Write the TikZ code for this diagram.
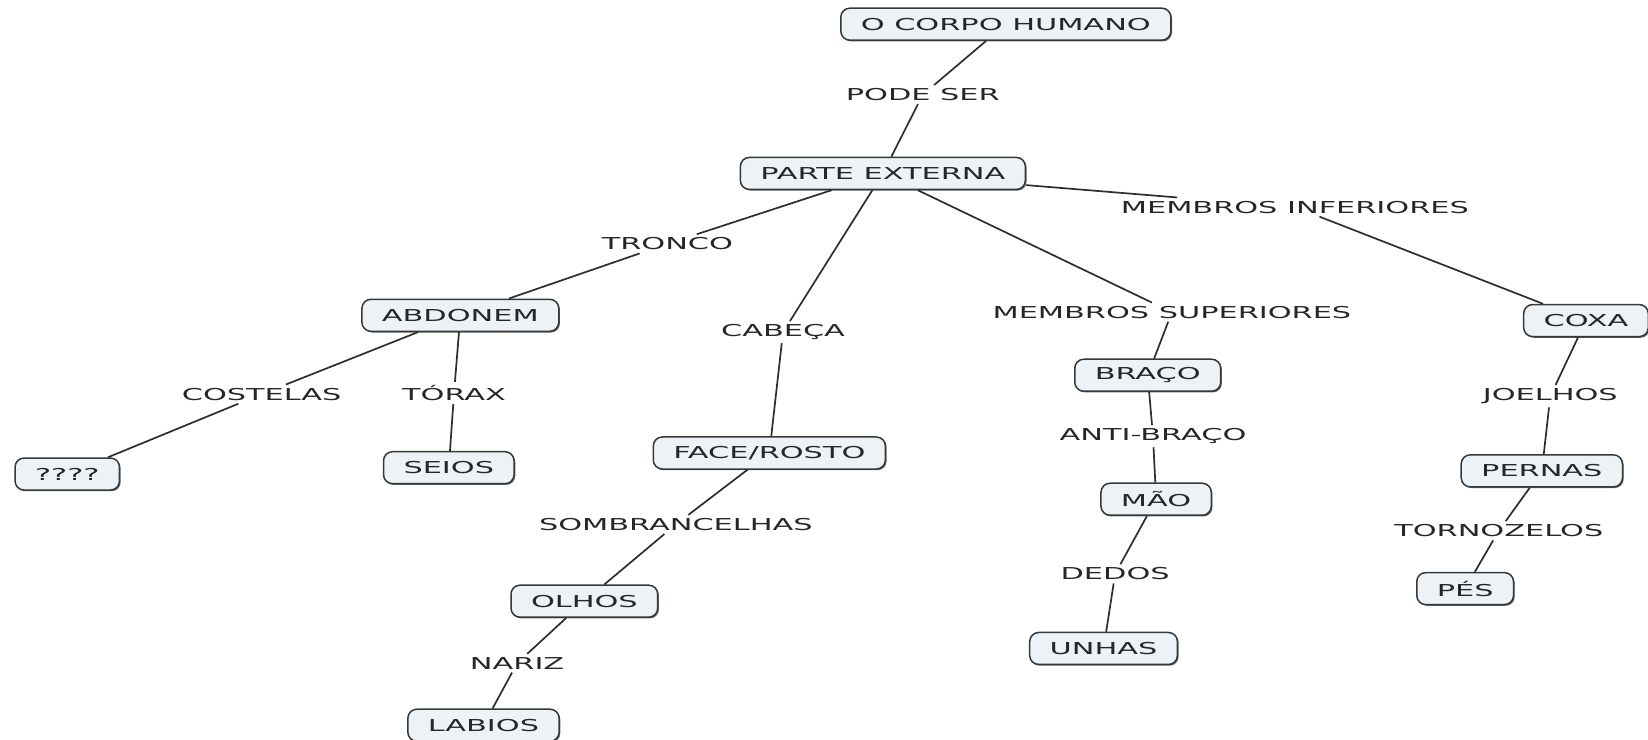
\documentclass[tikz,border=0pt]{standalone}
\usepackage{fontspec}
\usetikzlibrary{shadows}
\newfontfamily\mapfont[FakeStretch=1.85]{DejaVu Sans}
\definecolor{boxfill}{RGB}{236,242,245}
\definecolor{boxline}{RGB}{55,55,55}
\definecolor{linkline}{RGB}{45,45,45}
\begin{document}
\begin{tikzpicture}[
    x=0.5255pt, y=-0.5255pt,
    concept/.style={draw=boxline, fill=boxfill, rounded corners=4.5pt, line width=0.75pt,
        inner xsep=10pt, inner ysep=0pt, minimum height=16pt,
        font={\mapfont\fontsize{8.2pt}{9.5pt}\selectfont}, text=black!85,
        drop shadow={shadow xshift=0.6pt, shadow yshift=-0.6pt, fill=black!60, opacity=1}},
    linkword/.style={inner sep=1.5pt, font={\mapfont\fontsize{8.2pt}{9.5pt}\selectfont}, text=black!85},
    link/.style={draw=linkline, line width=0.85pt},
]
\useasboundingbox (0,0) rectangle (1568,704);

% Top of the map
\node[concept] (corpo) at (957,23) {O CORPO HUMANO};
\node[linkword] (podeser) at (878,90) {PODE SER};
\node[concept] (parte) at (840,165) {PARTE EXTERNA};

% Linking words under PARTE EXTERNA
\node[linkword] (tronco) at (635,232) {TRONCO};
\node[linkword] (cabeca) at (745,316) {CABEÇA};
\node[linkword] (msup) at (1115,297) {MEMBROS SUPERIORES};
\node[linkword] (minf) at (1232,197) {MEMBROS INFERIORES};

% Tronco branch
\node[concept] (abdonem) at (438,300) {ABDONEM};
\node[linkword] (costelas) at (249,375) {COSTELAS};
\node[linkword] (torax) at (432,374) {TÓRAX};
\node[concept] (interr) at (64,451) {????};
\node[concept] (seios) at (427,445) {SEIOS};

% Cabeca branch
\node[concept] (face) at (732,431) {FACE/ROSTO};
\node[linkword] (sobr) at (643,499) {SOMBRANCELHAS};
\node[concept] (olhos) at (556,572) {OLHOS};
\node[linkword] (nariz) at (492,631) {NARIZ};
\node[concept] (labios) at (460,690) {LABIOS};

% Membros superiores branch
\node[concept] (braco) at (1092,357) {BRAÇO};
\node[linkword] (antibraco) at (1097,415) {ANTI-BRAÇO};
\node[concept] (mao) at (1100,475) {MÃO};
\node[linkword] (dedos) at (1061,546) {DEDOS};
\node[concept] (unhas) at (1050,617) {UNHAS};

% Membros inferiores branch
\node[concept] (coxa) at (1509,305) {COXA};
\node[linkword] (joelhos) at (1475,377) {JOELHOS};
\node[concept] (pernas) at (1467,448) {PERNAS};
\node[linkword] (tornoz) at (1426,505) {TORNOZELOS};
\node[concept] (pes) at (1394,560) {PÉS};

% Connections
\draw[link] (corpo) -- (podeser) -- (parte);
\draw[link] (parte) -- (tronco) -- (abdonem);
\draw[link] (abdonem) -- (costelas) -- (interr);
\draw[link] (abdonem) -- (torax) -- (seios);
\draw[link] (parte) -- (cabeca) -- (face);
\draw[link] (face) -- (sobr) -- (olhos);
\draw[link] (olhos) -- (nariz) -- (labios);
\draw[link] (parte) -- (msup) -- (braco);
\draw[link] (braco) -- (antibraco) -- (mao);
\draw[link] (mao) -- (dedos) -- (unhas);
\draw[link] (parte) -- (minf) -- (coxa);
\draw[link] (coxa) -- (joelhos) -- (pernas);
\draw[link] (pernas) -- (tornoz) -- (pes);

\end{tikzpicture}
\end{document}
